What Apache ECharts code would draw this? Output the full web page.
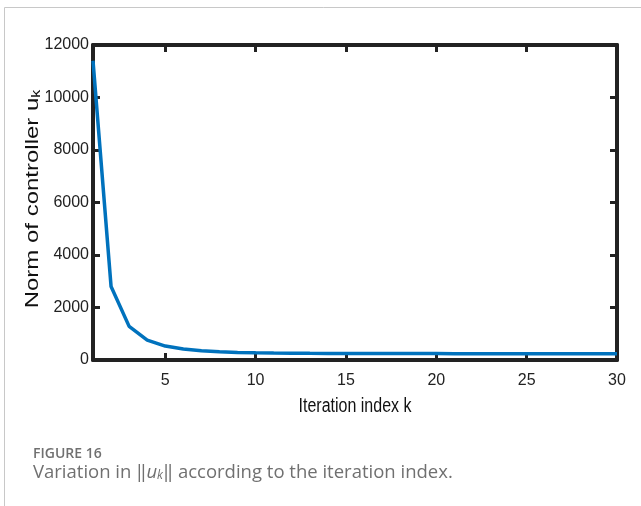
<!DOCTYPE html>
<html>
<head>
<meta charset="utf-8">
<script src="https://cdn.jsdelivr.net/npm/echarts@6/dist/echarts.min.js"></script>
<style>
  html, body { margin: 0; padding: 0; background: #fff; }
  #chart { width: 641px; height: 506px; }
</style>
</head>
<body>
<div id="chart"></div>
<script>
// Iteration index k and the norm of the controller at each iteration
const iterations = [1, 2, 3, 4, 5, 6, 7, 8, 9, 10,
                    11, 12, 13, 14, 15, 16, 17, 18, 19, 20,
                    21, 22, 23, 24, 25, 26, 27, 28, 29, 30];
const normValues = [11400, 2800, 1280, 760, 530, 420, 355, 315, 290, 275,
                    265, 258, 253, 250, 248, 246, 245, 244, 243, 243,
                    242, 242, 241, 241, 240, 240, 240, 239, 239, 239];
const xTickValues = [5, 10, 15, 20, 25, 30];
const yTickValues = [0, 2000, 4000, 6000, 8000, 10000, 12000];

const axisColor = '#222222';
const plotFont = "'Liberation Sans', Arial, sans-serif";
const captionFont = "'Open Sans', 'Noto Sans', sans-serif";
const captionColor = '#707070';

const boxLine = { show: true, onZero: false, lineStyle: { color: axisColor, width: 4 } };
const xTick = { show: true, inside: true, length: 7, customValues: xTickValues,
                lineStyle: { color: axisColor, width: 3 } };
const yTick = { show: true, inside: true, length: 7, customValues: yTickValues,
                lineStyle: { color: axisColor, width: 3 } };

const chart = echarts.init(document.getElementById('chart'), null, { renderer: 'canvas' });

chart.setOption({
  backgroundColor: '#ffffff',
  animation: false,
  grid: { left: 93, right: 24, top: 45, bottom: 146, outerBoundsMode: 'none' },
  xAxis: [
    {
      type: 'value', position: 'bottom', min: 1, max: 30,
      axisLine: boxLine, axisTick: xTick, splitLine: { show: false },
      axisLabel: { customValues: xTickValues, margin: 13, color: '#222',
                   fontFamily: plotFont, fontSize: 16,
                   formatter: v => String(v) }
    },
    {
      type: 'value', position: 'top', min: 1, max: 30,
      axisLine: boxLine, axisTick: xTick, splitLine: { show: false },
      axisLabel: { show: false }
    }
  ],
  yAxis: [
    {
      type: 'value', position: 'left', min: 0, max: 12000, interval: 2000,
      axisLine: boxLine, axisTick: yTick, splitLine: { show: false },
      axisLabel: { margin: 4, color: '#222', fontFamily: plotFont, fontSize: 16,
                   formatter: v => String(v) }
    },
    {
      type: 'value', position: 'right', min: 0, max: 12000, interval: 2000,
      axisLine: boxLine, axisTick: yTick, splitLine: { show: false },
      axisLabel: { show: false }
    }
  ],
  series: [
    {
      type: 'line',
      data: iterations.map((k, i) => [k, normValues[i]]),
      showSymbol: false,
      clip: false,
      lineStyle: { color: '#0072BD', width: 3.5 },
      z: 5
    }
  ],
  graphic: [
    // figure frame
    {
      type: 'rect', silent: true, z: -1,
      shape: { x: 4.5, y: 7.5, width: 700, height: 600 },
      style: { fill: 'none', stroke: '#c8c8c8', lineWidth: 1 }
    },
    // y axis title (condensed letterforms)
    {
      type: 'text', x: 33, y: 199, rotation: Math.PI / 2, scaleY: 0.78,
      style: {
        text: 'Norm of controller u{sub|k}',
        fill: '#111', font: "24px 'Liberation Sans', Arial, sans-serif",
        align: 'center', verticalAlign: 'middle',
        rich: {
          sub: { fontFamily: plotFont, fontSize: 16, fill: '#111',
                 verticalAlign: 'bottom', padding: [10, 0, 0, 0] }
        }
      }
    },
    // x axis title (condensed letterforms)
    {
      type: 'text', x: 355, y: 406, scaleX: 0.8,
      style: {
        text: 'Iteration index k', fill: '#111',
        font: "20px 'Liberation Sans', Arial, sans-serif",
        align: 'center', verticalAlign: 'middle'
      }
    },
    {
      type: 'text', left: 33, top: 447,
      style: { text: 'FIGURE 16', fill: captionColor, font: "600 14px " + captionFont }
    },
    {
      type: 'text', left: 33, top: 463,
      style: {
        text: 'Variation in \u2016{it|u}{sub|k}\u2016 according to the iteration index.',
        fill: captionColor,
        font: "18.5px " + captionFont,
        rich: {
          it: { fontFamily: captionFont, fontSize: 18.5, fontStyle: 'italic', fill: captionColor },
          sub: { fontFamily: captionFont, fontSize: 12, fontStyle: 'italic', fill: captionColor,
                 verticalAlign: 'bottom', padding: [7, 0, 0, 0] }
        }
      }
    }
  ]
});
</script>
</body>
</html>
